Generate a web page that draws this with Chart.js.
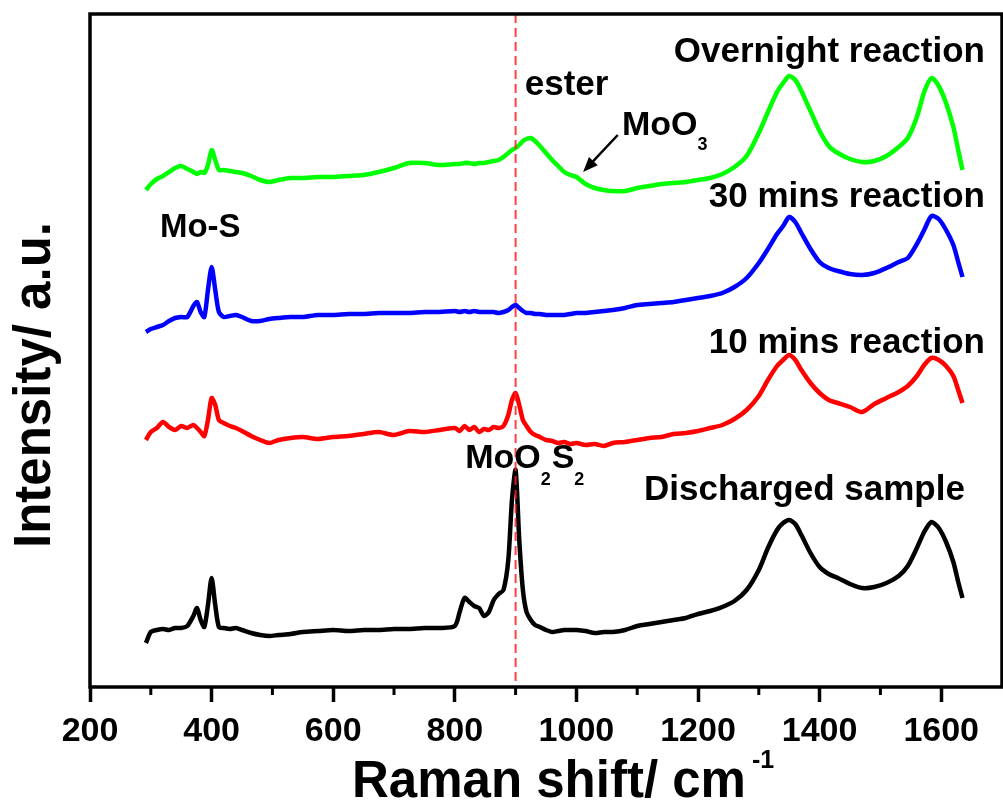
<!DOCTYPE html>
<html>
<head>
<meta charset="utf-8">
<script src="https://cdn.jsdelivr.net/npm/chart.js@4.4.1/dist/chart.umd.min.js"></script>
<style>
  html, body { margin: 0; padding: 0; background: #fff; }
  #ramanChart { display: block; }
</style>
</head>
<body>
<canvas id="ramanChart" width="1003" height="802"></canvas>
<script>
// Raman shift (cm-1), shared by all four spectra
const ramanShift = [
  292, 300, 310, 320, 330, 340, 350, 360, 370, 376,
  382, 388, 394, 400, 406, 412, 420, 430, 440, 450,
  465, 480, 495, 510, 530, 550, 575, 600, 625, 650,
  675, 700, 725, 750, 775, 800, 808, 816, 824, 832,
  840, 848, 856, 864, 872, 880, 888, 894, 900, 906,
  912, 918, 925, 932, 940, 950, 960, 970, 980, 990,
  1000, 1015, 1030, 1045, 1060, 1080, 1100, 1120, 1140, 1160,
  1180, 1200, 1220, 1240, 1260, 1280, 1300, 1315, 1330, 1340,
  1350, 1360, 1370, 1385, 1400, 1415, 1430, 1450, 1470, 1490,
  1510, 1530, 1545, 1560, 1572, 1584, 1596, 1608, 1620, 1628,
  1635,
];

// intensities (a.u., curves already offset as in the figure)
const discharged = [
  44, 55, 57, 58, 57, 59, 59, 61, 71, 79,
  67, 60, 82, 109, 82, 60, 59, 58, 59, 57,
  54, 52, 51, 52, 53, 55, 56, 57, 56, 57,
  57, 58, 58, 59, 59, 61, 75, 89, 85, 81,
  79, 71, 75, 87, 93, 97, 127, 187, 217, 147,
  97, 75, 67, 62, 60, 57, 55, 56, 57, 57,
  57, 56, 54, 55, 55, 57, 61, 63, 65, 67,
  69, 73, 76, 80, 86, 97, 117, 139, 157, 164,
  167, 163, 152, 134, 120, 113, 109, 103, 99, 100,
  104, 111, 121, 139, 155, 165, 159, 145, 125, 105,
  89,
];
const tenMins = [
  247, 255, 259, 265, 260, 257, 261, 259, 262, 259,
  255, 251, 267, 289, 282, 267, 264, 261, 259, 256,
  251, 247, 244, 247, 249, 250, 248, 250, 251, 253,
  255, 252, 256, 255, 257, 259, 256, 261, 257, 260,
  255, 258, 257, 260, 259, 261, 272, 287, 294, 282,
  267, 261, 255, 252, 250, 247, 246, 244, 245, 243,
  244, 242, 243, 241, 244, 245, 247, 249, 250, 253,
  254, 256, 259, 262, 268, 277, 291, 307, 321, 327,
  332, 327, 317, 304, 294, 287, 284, 280, 275, 283,
  289, 295, 301, 311, 322, 329, 327, 321, 311, 297,
  284,
];
const thirtyMins = [
  355, 358, 360, 362, 366, 369, 370, 370, 381, 385,
  375, 370, 397, 420, 397, 375, 370, 371, 372, 370,
  366, 366, 368, 369, 370, 370, 372, 372, 373, 373,
  374, 374, 374, 375, 375, 376, 375, 376, 375, 376,
  375, 375, 375, 375, 374, 375, 377, 380, 382, 379,
  376, 374, 374, 373, 373, 372, 372, 372, 372, 373,
  374, 374, 375, 376, 377, 379, 382, 383, 384, 385,
  387, 389, 391, 394, 400, 409, 424, 438, 453, 461,
  470, 465, 454, 438, 425, 419, 416, 413, 412, 414,
  419, 425, 429, 443, 457, 471, 468, 457, 442, 425,
  410,
];
const overnight = [
  497, 503, 508, 511, 515, 519, 521, 518, 515, 513,
  515, 514, 522, 537, 527, 517, 517, 516, 515, 514,
  511, 507, 505, 507, 509, 509, 510, 510, 511, 512,
  515, 519, 524, 524, 522, 523, 523, 524, 524, 523,
  524, 524, 525, 526, 527, 530, 534, 537, 539, 542,
  546, 548, 549, 546, 541, 534, 527, 521, 515, 512,
  510, 503, 499, 497, 496, 496, 499, 501, 503, 504,
  505, 507, 509, 513, 520, 531, 554, 575, 595, 604,
  611, 607, 596, 576, 556, 541, 534, 528, 525, 526,
  531, 540, 549, 570, 595, 609, 601, 584, 560, 537,
  517,
];

const seriesNames = ["Discharged sample", "10 mins reaction", "30 mins reaction", "Overnight reaction"];
const seriesColors = ["#000000", "#ff0000", "#0000ff", "#00ff00"];
const majorTicks = [200, 400, 600, 800, 1000, 1200, 1400, 1600];
const minorTicks = [300, 500, 700, 900, 1100, 1300, 1500];
const markerShift = 900;

const FONT = '"Liberation Sans", Arial, sans-serif';

function toPoints(values) {
  return values.map((v, i) => ({ x: ramanShift[i], y: v }));
}

// text with subscripts: parts = [[text, isSub], ...]
function drawChem(ctx, parts, px, py, size, subSize, subDrop) {
  let cx = px;
  parts.forEach(([txt, sub]) => {
    ctx.font = "bold " + (sub ? subSize : size) + "px " + FONT;
    ctx.fillText(txt, cx, sub ? py + subDrop : py);
    cx += ctx.measureText(txt).width + (sub ? 1 : 0);
  });
}

const annotations = {
  id: "annotations",
  afterDatasetsDraw(chart) {
    const { ctx, chartArea: area, scales: { x, y } } = chart;
    ctx.save();

    // dashed marker at 900 cm-1
    const mx = x.getPixelForValue(markerShift);
    ctx.strokeStyle = "rgba(255, 30, 30, 0.85)";
    ctx.lineWidth = 2;
    ctx.setLineDash([9, 5]);
    ctx.beginPath();
    ctx.moveTo(mx, area.top);
    ctx.lineTo(mx, area.bottom);
    ctx.stroke();
    ctx.setLineDash([]);

    ctx.fillStyle = "#000";
    ctx.textBaseline = "alphabetic";

    // series labels, right aligned
    ctx.font = "bold 35px " + FONT;
    ctx.textAlign = "right";
    ctx.fillText(seriesNames[3], x.getPixelForValue(1672), y.getPixelForValue(625));
    ctx.fillText(seriesNames[2], x.getPixelForValue(1672), y.getPixelForValue(480));
    ctx.fillText(seriesNames[1], x.getPixelForValue(1672), y.getPixelForValue(334));
    ctx.fillText(seriesNames[0], x.getPixelForValue(1639), y.getPixelForValue(187));

    // peak labels
    ctx.textAlign = "left";
    ctx.font = "bold 35px " + FONT;
    ctx.fillText("ester", x.getPixelForValue(915), y.getPixelForValue(592));
    ctx.font = "bold 33px " + FONT;
    ctx.fillText("Mo-S", x.getPixelForValue(315), y.getPixelForValue(450));
    drawChem(ctx, [["MoO", false], ["3", true]],
      x.getPixelForValue(1075), y.getPixelForValue(552), 34, 18, 15);
    drawChem(ctx, [["MoO", false], ["2", true], ["S", false], ["2", true]],
      x.getPixelForValue(817), y.getPixelForValue(219), 34, 18, 17);

    // arrow to the MoO3 shoulder
    const ax0 = x.getPixelForValue(1068), ay0 = y.getPixelForValue(552);
    const ax1 = x.getPixelForValue(1011), ay1 = y.getPixelForValue(515);
    const ang = Math.atan2(ay1 - ay0, ax1 - ax0);
    ctx.strokeStyle = "#000";
    ctx.lineWidth = 2.5;
    ctx.beginPath();
    ctx.moveTo(ax0, ay0);
    ctx.lineTo(ax1 - 10 * Math.cos(ang), ay1 - 10 * Math.sin(ang));
    ctx.stroke();
    ctx.beginPath();
    ctx.moveTo(ax1, ay1);
    ctx.lineTo(ax1 - 15 * Math.cos(ang) + 6 * Math.sin(ang), ay1 - 15 * Math.sin(ang) - 6 * Math.cos(ang));
    ctx.lineTo(ax1 - 15 * Math.cos(ang) - 6 * Math.sin(ang), ay1 - 15 * Math.sin(ang) + 6 * Math.cos(ang));
    ctx.closePath();
    ctx.fill();

    ctx.restore();
  },
  afterDraw(chart) {
    const { ctx, chartArea: area, scales: { x } } = chart;
    ctx.save();

    // frame
    ctx.strokeStyle = "#000";
    ctx.lineWidth = 3.5;
    ctx.strokeRect(area.left, area.top, area.right - area.left, area.bottom - area.top);

    // minor ticks
    ctx.lineWidth = 3;
    minorTicks.forEach((v) => {
      const px = x.getPixelForValue(v);
      ctx.beginPath();
      ctx.moveTo(px, area.bottom);
      ctx.lineTo(px, area.bottom + 8);
      ctx.stroke();
    });

    // axis titles
    ctx.fillStyle = "#000";
    ctx.textBaseline = "alphabetic";
    ctx.textAlign = "left";
    ctx.font = "bold 51px " + FONT;
    const main = "Raman shift/ cm";
    ctx.fillText(main, 352, 797);
    const w = ctx.measureText(main).width;
    ctx.font = "bold 25px " + FONT;
    ctx.fillText("-1", 352 + w + 6, 768);

    ctx.translate(50, 385);
    ctx.rotate(-Math.PI / 2);
    ctx.textAlign = "center";
    ctx.font = "bold 51px " + FONT;
    ctx.fillText("Intensity/ a.u.", 0, 0);

    ctx.restore();
  },
};

new Chart(document.getElementById("ramanChart"), {
  type: "line",
  data: {
    datasets: [discharged, tenMins, thirtyMins, overnight].map((vals, i) => ({
      label: seriesNames[i],
      data: toPoints(vals),
      borderColor: seriesColors[i],
      borderWidth: 4.5,
      pointRadius: 0,
      tension: 0.25,
      fill: false,
    })),
  },
  options: {
    responsive: false,
    animation: false,
    layout: { padding: { left: 90, right: 1, top: 14, bottom: 0 } },
    plugins: { legend: { display: false }, tooltip: { enabled: false } },
    scales: {
      x: {
        type: "linear",
        min: 200,
        max: 1700,
        border: { display: false },
        afterFit: (scale) => {
          // pin the plot box: bottom at 687, right at 1002
          scale.height = 115;
          scale.paddingLeft = 0;
          scale.paddingRight = 0;
        },
        grid: {
          drawOnChartArea: false,
          drawTicks: true,
          tickLength: 15,
          tickWidth: 3.5,
          tickColor: (c) => (majorTicks.includes(c.tick.value) ? "#000" : "rgba(0,0,0,0)"),
        },
        ticks: {
          stepSize: 100,
          autoSkip: false,
          maxRotation: 0,
          padding: 9,
          color: "#000",
          font: { family: FONT, size: 34, weight: "bold" },
          callback: (v) => (majorTicks.includes(v) ? String(v) : ""),
        },
      },
      y: { display: false, min: 0, max: 673 },
    },
  },
  plugins: [annotations],
});
</script>
</body>
</html>
